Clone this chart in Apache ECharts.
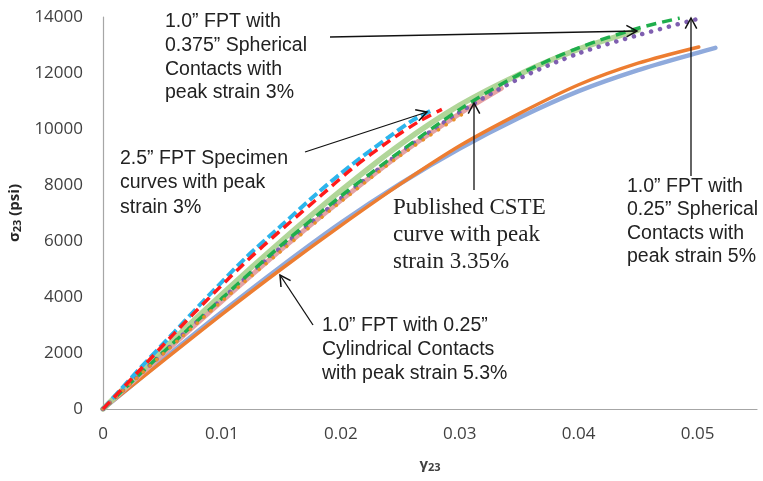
<!DOCTYPE html>
<html>
<head>
<meta charset="utf-8">
<script src="https://cdn.jsdelivr.net/npm/echarts@6/dist/echarts.min.js"></script>
<style>
  html, body { margin: 0; padding: 0; background: #fff; }
  #chart { width: 763px; height: 481px; }
</style>
</head>
<body>
<div id="chart"></div>
<script>
// Shear stress–strain curves, sigma23 (psi) vs gamma23.
// Each curve is a list of [gamma23, sigma23] points.

const xTicks = [0, 0.01, 0.02, 0.03, 0.04, 0.05];
const yTicks = [0, 2000, 4000, 6000, 8000, 10000, 12000, 14000];

// 1.0" FPT with 0.25" cylindrical contacts (two specimens)
const cylBlue = [[0,0],[0.005,1750],[0.01,3460],[0.015,5100],[0.02,6650],[0.025,8050],[0.03,9300],[0.035,10400],[0.04,11350],[0.045,12100],[0.05,12720],[0.0515,12900]];
const cylOrange = [[0,0],[0.005,1700],[0.01,3380],[0.015,5000],[0.02,6550],[0.025,8030],[0.03,9400],[0.035,10550],[0.04,11580],[0.045,12350],[0.0501,12930]];

// Published CSTE curve
const csteCurve = [[0,0],[0.005,1950],[0.01,3850],[0.015,5700],[0.02,7450],[0.025,9100],[0.03,10550],[0.0335,11450]];

// 1.0" FPT with 0.375" spherical contacts
const sph375Solid = [[0,0],[0.005,2100],[0.01,4100],[0.015,6000],[0.02,7800],[0.025,9450],[0.03,10850],[0.035,11950],[0.04,12850],[0.045,13530]];
const sph375Dash = [[0,0],[0.005,2000],[0.01,3950],[0.015,5850],[0.02,7600],[0.025,9200],[0.03,10700],[0.035,11950],[0.04,12900],[0.045,13600],[0.0485,13960]];

// 1.0" FPT with 0.25" spherical contacts
const sph25Dot = [[0,0],[0.005,1980],[0.01,3920],[0.015,5780],[0.02,7520],[0.025,9150],[0.03,10600],[0.035,11800],[0.04,12700],[0.045,13350],[0.05,13930]];

// 2.5" FPT specimens
const spec25Cyan = [[0,0],[0.003,1400],[0.006,2750],[0.009,4100],[0.012,5400],[0.015,6550],[0.018,7700],[0.021,8750],[0.024,9700],[0.026,10300],[0.0278,10700]];
const spec25Red = [[0,0],[0.003,1350],[0.006,2700],[0.009,4000],[0.012,5250],[0.015,6400],[0.018,7500],[0.021,8600],[0.024,9550],[0.0265,10250],[0.0285,10700]];
const spec25OrangeDot = [[0,0],[0.005,1950],[0.01,3850],[0.015,5650],[0.02,7400],[0.025,9050],[0.0303,10550]];

const chart = echarts.init(document.getElementById('chart'), null, { renderer: 'canvas' });

function solid(name, data, color, width, opacity) {
  return { name, type: 'line', data, smooth: 0.3, symbol: 'none',
    lineStyle: { color, width, opacity: opacity == null ? 1 : opacity, cap: 'round' } };
}
function dashed(name, data, color, width, pattern) {
  return { name, type: 'line', data, smooth: 0.3, symbol: 'none',
    lineStyle: { color, width, type: pattern, cap: pattern[0] < 1 ? 'round' : 'butt' } };
}

// Open chevron arrow from (x1,y1) to tip (x2,y2)
function arrow(x1, y1, x2, y2) {
  const a = Math.atan2(y2 - y1, x2 - x1), L = 12, s = 0.5;
  const h1 = [x2 - L * Math.cos(a - s), y2 - L * Math.sin(a - s)];
  const h2 = [x2 - L * Math.cos(a + s), y2 - L * Math.sin(a + s)];
  return [
    { type: 'polyline', shape: { points: [[x1, y1], [x2, y2]] }, style: { stroke: '#111', lineWidth: 1.3, fill: null }, z: 100 },
    { type: 'polyline', shape: { points: [h1, [x2, y2], h2] }, style: { stroke: '#111', lineWidth: 1.5, fill: null }, z: 100 }
  ];
}
function note(text, x, y, font, lh) {
  return { type: 'text', x, y, z: 100, style: { text, font, fill: '#222', lineHeight: lh, textVerticalAlign: 'top' } };
}

const sans = '19.5px "Liberation Sans", Arial, sans-serif';
const serif = '23px "Liberation Serif", "Times New Roman", serif';

const graphics = [
  note('1.0\u201D FPT with\n0.375\u201D Spherical\nContacts with\npeak strain 3%', 165, 10, sans, 23.7),
  note('2.5\u201D FPT Specimen\ncurves with peak\nstrain 3%', 120, 146, sans, 24.5),
  note('Published CSTE\ncurve with peak\nstrain 3.35%', 393, 194, serif, 27),
  note('1.0\u201D FPT with\n0.25\u201D Spherical\nContacts with\npeak strain 5%', 627, 175, sans, 23.3),
  note('1.0\u201D FPT with 0.25\u201D\nCylindrical Contacts\nwith peak strain 5.3%', 322, 314, sans, 24),
  ...arrow(330, 37, 637, 31),
  ...arrow(305, 152, 427, 112),
  ...arrow(474, 190, 474, 103),
  ...arrow(691, 176, 691, 18),
  ...arrow(313, 325, 280, 275)
];

const labelFont = { fontFamily: '"Open Sans", sans-serif', fontSize: 17, color: '#404040' };

chart.setOption({
  animation: false,
  backgroundColor: '#fff',
  grid: { left: 103, right: 6, top: 17, bottom: 72, containLabel: false, outerBoundsMode: 'none' },
  xAxis: {
    type: 'value', min: xTicks[0], max: 0.055, interval: 0.01,
    axisLine: { show: true, lineStyle: { color: '#a6a6a6', width: 1.2 } },
    axisTick: { show: false }, splitLine: { show: false },
    axisLabel: Object.assign({}, labelFont, { margin: 17,
      formatter: v => xTicks.some(t => Math.abs(t - v) < 1e-9) ? (v === 0 ? '0' : v.toFixed(2)) : '' }),
    name: '{g|\u03B3}{s|23}', nameLocation: 'middle', nameGap: 47,
    nameTextStyle: { rich: {
      g: { fontFamily: '"Open Sans", sans-serif', fontWeight: 'bold', fontSize: 15, color: '#404040' },
      s: { fontFamily: '"Open Sans", sans-serif', fontWeight: 'bold', fontSize: 11, color: '#404040', padding: [6, 0, 0, 0] } } }
  },
  yAxis: {
    type: 'value', min: yTicks[0], max: yTicks[yTicks.length - 1], interval: 2000,
    axisLine: { show: true, lineStyle: { color: '#a6a6a6', width: 1.2 } },
    axisTick: { show: false }, splitLine: { show: false },
    axisLabel: Object.assign({}, labelFont, { margin: 20, formatter: v => String(v) }),
    name: '{g|\u03C3}{s|23}{g| (psi)}', nameLocation: 'middle', nameGap: 75, nameRotate: 90,
    nameTextStyle: { rich: {
      g: { fontFamily: '"Open Sans", sans-serif', fontWeight: 'bold', fontSize: 15, color: '#262626' },
      s: { fontFamily: '"Open Sans", sans-serif', fontWeight: 'bold', fontSize: 11, color: '#262626', padding: [6, 0, 0, 0] } } }
  },
  series: [
    solid('cyl-blue', cylBlue, '#8faadc', 4.5),
    solid('cyl-orange', cylOrange, '#ed7d31', 3.5),
    solid('cste', csteCurve, '#e6a3a3', 5),
    solid('sph375-solid', sph375Solid, '#a9d18e', 5.5, 0.9),
    dashed('sph25-dot', sph25Dot, '#7f5fb0', 4.5, [0.1, 9]),
    dashed('sph375-dash', sph375Dash, '#1fae4c', 3.5, [10, 6]),
    dashed('spec25-orange', spec25OrangeDot, '#e8902a', 3.5, [0.1, 9]),
    dashed('spec25-cyan', spec25Cyan, '#2cb5ec', 4, [10, 4]),
    dashed('spec25-red', spec25Red, '#ff1a1a', 3.5, [10, 6])
  ],
  graphic: graphics
});
</script>
</body>
</html>
